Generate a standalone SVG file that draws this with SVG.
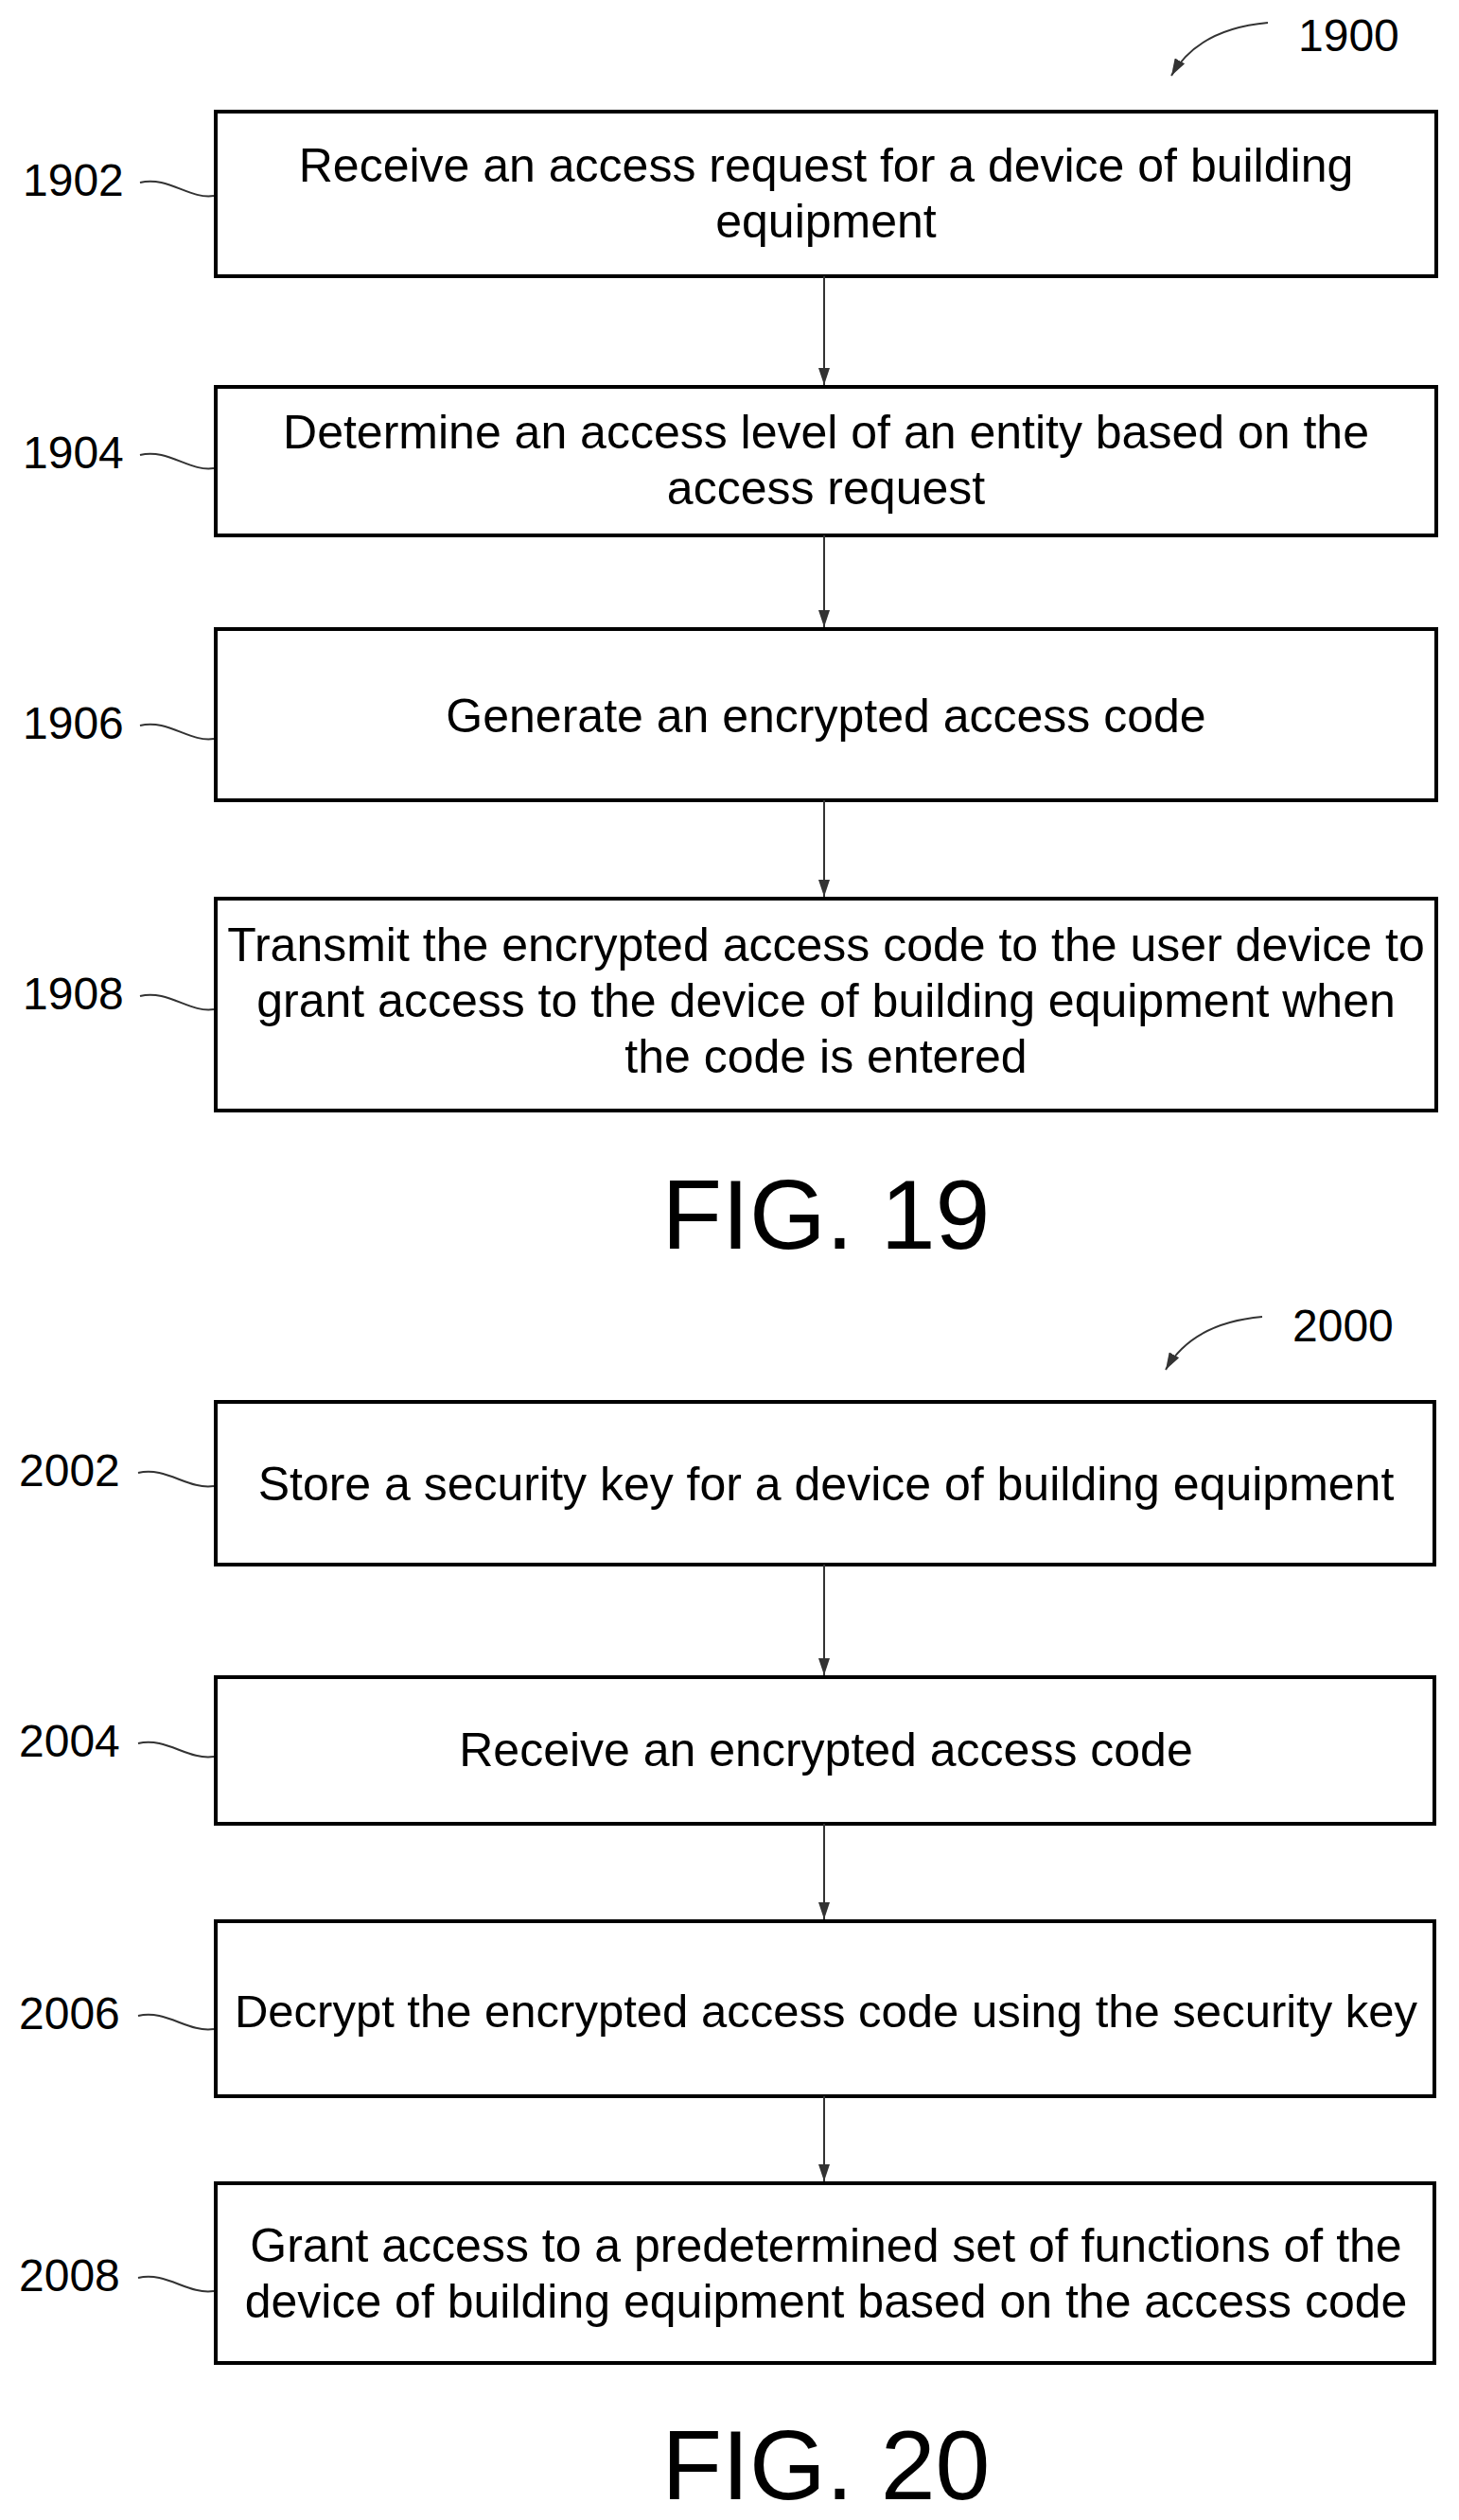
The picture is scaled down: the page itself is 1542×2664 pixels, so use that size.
<svg xmlns="http://www.w3.org/2000/svg" width="1542" height="2664" viewBox="0 0 1542 2664">
<style>
.box{fill:#fff;stroke:#000;stroke-width:4}
.t{font-family:"Liberation Sans",Arial,sans-serif;font-size:50px;text-anchor:middle;fill:#000}
.lb{font-family:"Liberation Sans",Arial,sans-serif;font-size:48px;fill:#000}
.fig{font-family:"Liberation Sans",Arial,sans-serif;font-size:104px;text-anchor:middle;fill:#000}
.c{stroke:#333;stroke-width:2;fill:none}
.sq{stroke:#333;stroke-width:2;fill:none}
</style>
<defs>
<marker id="ah" markerWidth="18" markerHeight="12" refX="18" refY="6" orient="auto" markerUnits="userSpaceOnUse" viewBox="0 0 18 12"><path d="M0,0 L18,6 L0,12 Z" fill="#333"/></marker>
</defs>
<text class="lb" x="1372" y="54">1900</text>
<path class="c" d="M1340,24 C1295,28 1258,45 1238,80" marker-end="url(#ah)"/>
<text class="lb" x="1366" y="1418">2000</text>
<path class="c" d="M1334,1392 C1289,1396 1252,1413 1232,1448" marker-end="url(#ah)"/>
<g id="n1902"><rect class="box" x="228" y="118" width="1290" height="174"/><text class="t" x="873" y="192">Receive an access request for a device of building</text><text class="t" x="873" y="251">equipment</text><text class="lb" x="24" y="207">1902</text><path class="sq" d="M148,193 C178,186 200,211 226,207"/></g>
<g id="n1904"><rect class="box" x="228" y="409" width="1290" height="157"/><text class="t" x="873" y="474">Determine an access level of an entity based on the</text><text class="t" x="873" y="533">access request</text><text class="lb" x="24" y="495">1904</text><path class="sq" d="M148,481 C178,474 200,499 226,495"/></g>
<g id="n1906"><rect class="box" x="228" y="665" width="1290" height="181"/><text class="t" x="873" y="774">Generate an encrypted access code</text><text class="lb" x="24" y="781">1906</text><path class="sq" d="M148,767 C178,760 200,785 226,781"/></g>
<g id="n1908"><rect class="box" x="228" y="950" width="1290" height="224"/><text class="t" x="873" y="1016">Transmit the encrypted access code to the user device to</text><text class="t" x="873" y="1075">grant access to the device of building equipment when</text><text class="t" x="873" y="1134">the code is entered</text><text class="lb" x="24" y="1067">1908</text><path class="sq" d="M148,1053 C178,1046 200,1071 226,1067"/></g>
<text class="fig" x="873" y="1320">FIG. 19</text>
<g id="n2002"><rect class="box" x="228" y="1482" width="1288" height="172"/><text class="t" x="873" y="1586">Store a security key for a device of building equipment</text><text class="lb" x="20" y="1571">2002</text><path class="sq" d="M146,1557 C176,1550 198,1575 226,1571"/></g>
<g id="n2004"><rect class="box" x="228" y="1773" width="1288" height="155"/><text class="t" x="873" y="1867">Receive an encrypted access code</text><text class="lb" x="20" y="1857">2004</text><path class="sq" d="M146,1843 C176,1836 198,1861 226,1857"/></g>
<g id="n2006"><rect class="box" x="228" y="2031" width="1288" height="185"/><text class="t" x="873" y="2143" style="font-size:49px">Decrypt the encrypted access code using the security key</text><text class="lb" x="20" y="2145">2006</text><path class="sq" d="M146,2131 C176,2124 198,2149 226,2145"/></g>
<g id="n2008"><rect class="box" x="228" y="2308" width="1288" height="190"/><text class="t" x="873" y="2391">Grant access to a predetermined set of functions of the</text><text class="t" x="873" y="2450">device of building equipment based on the access code</text><text class="lb" x="20" y="2422">2008</text><path class="sq" d="M146,2408 C176,2401 198,2426 226,2422"/></g>
<text class="fig" x="873" y="2642">FIG. 20</text>
<g id="connectors">
<line class="c" x1="871" y1="292" x2="871" y2="407" marker-end="url(#ah)"/>
<line class="c" x1="871" y1="566" x2="871" y2="663" marker-end="url(#ah)"/>
<line class="c" x1="871" y1="846" x2="871" y2="948" marker-end="url(#ah)"/>
<line class="c" x1="871" y1="1654" x2="871" y2="1771" marker-end="url(#ah)"/>
<line class="c" x1="871" y1="1928" x2="871" y2="2029" marker-end="url(#ah)"/>
<line class="c" x1="871" y1="2216" x2="871" y2="2306" marker-end="url(#ah)"/>
</g>
</svg>
